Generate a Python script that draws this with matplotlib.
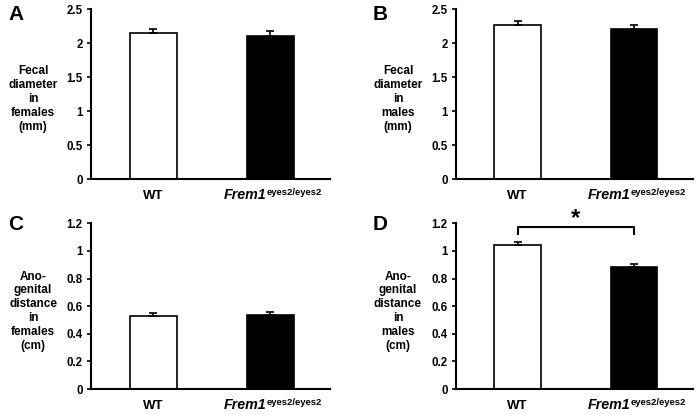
import matplotlib
matplotlib.use("Agg")
import matplotlib.pyplot as plt
import numpy as np

plt.rcParams['font.family'] = ['Liberation Sans', 'DejaVu Sans']
plt.rcParams['font.weight'] = 'bold'

categories = ['WT', 'Frem1']
cat_superscripts = ['', 'eyes2/eyes2']
bar_colors = ['white', 'black']

panel_letters = ['A', 'B', 'C', 'D']
ylabels = ['Fecal\ndiameter\nin\nfemales\n(mm)',
           'Fecal\ndiameter\nin\nmales\n(mm)',
           'Ano-\ngenital\ndistance\nin\nfemales\n(cm)',
           'Ano-\ngenital\ndistance\nin\nmales\n(cm)']
values = [[2.15, 2.11], [2.265, 2.20], [0.531, 0.536], [1.045, 0.886]]
errors = [[0.06, 0.065], [0.065, 0.07], [0.017, 0.022], [0.02, 0.021]]
ymax = [2.5, 2.5, 1.2, 1.2]
ystep = [0.5, 0.5, 0.2, 0.2]
ticklabels_25 = ['0', '0.5', '1', '1.5', '2', '2.5']
ticklabels_12 = ['0', '0.2', '0.4', '0.6', '0.8', '1', '1.2']
yticklabels = [ticklabels_25, ticklabels_25, ticklabels_12, ticklabels_12]

W, H = 697, 415
fig = plt.figure(figsize=(W / 100, H / 100), dpi=100)
px = 72 / 100  # points per pixel

# axes boxes in pixels: left, right, top(y of max), bottom(y of 0)
boxes = [(91, 330, 9, 179), (456, 693, 9, 179),
         (91, 330, 223.3, 389), (456, 693, 223.3, 389)]
letter_base = [20, 20, 230, 230]

for i, (l, r, t, b) in enumerate(boxes):
    ax = fig.add_axes([l / W, (H - b) / H, (r - l) / W, (b - t) / H])
    x = np.arange(len(categories))
    ax.bar(x, values[i], width=0.4, color=bar_colors, edgecolor='black',
           linewidth=1.2, zorder=2)
    ax.errorbar(x, values[i], yerr=[np.zeros(2), errors[i]], fmt='none',
                ecolor='black', elinewidth=1.2, capsize=3, capthick=1.2, zorder=3)
    ax.set_xlim(-0.53, 1.51)
    ax.set_ylim(0, ymax[i])
    ticks = np.arange(len(yticklabels[i])) * ystep[i]
    ax.set_yticks(ticks)
    ax.set_yticklabels(yticklabels[i], fontsize=8.3, fontweight='bold')
    ax.set_xticks(x)
    ax.set_xticklabels([])
    ax.tick_params(axis='x', length=0)
    ax.tick_params(axis='y', length=3, width=1.2, direction='out', pad=3)
    for s in ['top', 'right']:
        ax.spines[s].set_visible(False)
    ax.spines['left'].set_linewidth(1.5)
    ax.spines['bottom'].set_linewidth(1.5)
    ax.patch.set_alpha(0)

    # category labels
    base_off = -20.3 * px
    ax.annotate(categories[0], xy=(x[0], 0), xycoords=('data', 'axes fraction'),
                xytext=(0, base_off), textcoords='offset points',
                ha='center', va='baseline', fontsize=9.5, fontweight='bold')
    ax.annotate(categories[1], xy=(x[1], 0), xycoords=('data', 'axes fraction'),
                xytext=(-3.8 * px, base_off), textcoords='offset points',
                ha='right', va='baseline', fontsize=10.3, fontweight='bold',
                style='italic')
    ax.annotate(cat_superscripts[1], xy=(x[1], 0), xycoords=('data', 'axes fraction'),
                xytext=(-3.3 * px, base_off + 4.5 * px), textcoords='offset points',
                ha='left', va='baseline', fontsize=6.8, fontweight='bold',
                annotation_clip=False)

    # multi-line y label
    fig.text((l - 58) / W, 1 - ((t + b) / 2 + 5) / H, ylabels[i], ha='center',
             va='center', fontsize=8.5, fontweight='bold', linespacing=1.2)
    fig.text((l - 83) / W, 1 - letter_base[i] / H, panel_letters[i], ha='left',
             va='baseline', fontsize=15, fontweight='bold')
    if i == 3:
        yb = 1.172
        ax.plot([0, 0, 1, 1], [1.12, yb, yb, 1.12], color='black', lw=1.5,
                clip_on=False, zorder=4)
        ax.text(0.5, 1.235, '*', ha='center', va='center', fontsize=17,
                fontweight='bold', clip_on=False)

fig.savefig('out.png', dpi=100)
